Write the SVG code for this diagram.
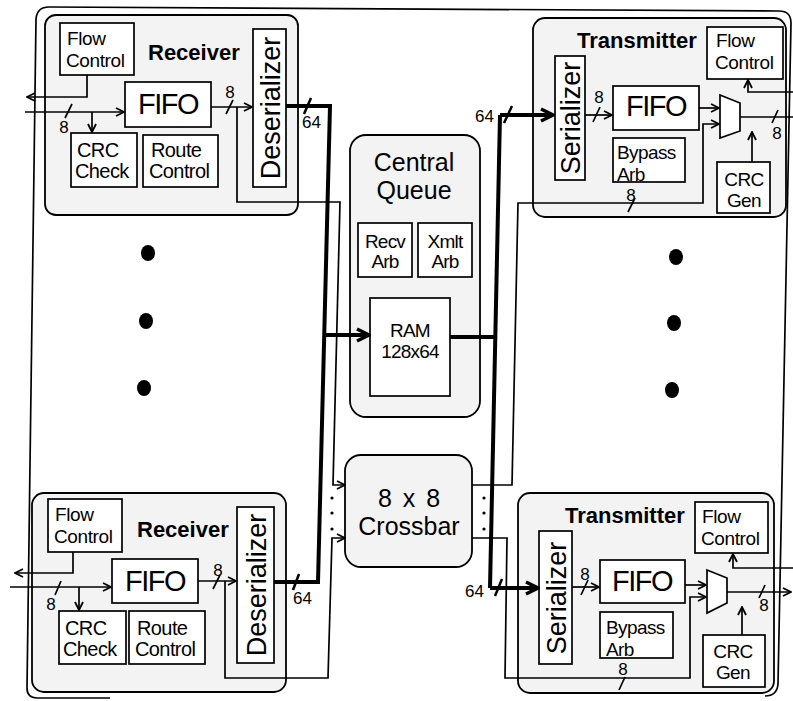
<svg xmlns="http://www.w3.org/2000/svg" width="793" height="701" viewBox="0 0 793 701">
<style>
.frame{fill:#f3f3f3;stroke:#000;stroke-width:1.8}
.box{fill:#fff;stroke:#000;stroke-width:1.7}
.t{font-family:"Liberation Sans",Arial,sans-serif;font-size:20px;letter-spacing:-0.6px;fill:#000}
.fc{font-size:19px;letter-spacing:-0.4px}
.b{font-weight:bold;font-size:22px;letter-spacing:0}
.big{font-size:29px;letter-spacing:-1.5px}
.cq{font-size:25px;letter-spacing:0}
.rot{font-size:27px;letter-spacing:0}
.lbl{font-size:17px;letter-spacing:0}
.sm{font-size:19px;letter-spacing:-0.8px}
.s18{font-size:19px}
.m{text-anchor:middle}
.e{text-anchor:end}
.w{fill:none;stroke:#000;stroke-width:1.7}
.bus{fill:none;stroke:#000;stroke-width:4}
.ar{marker-end:url(#a)}
.arT{marker-end:url(#aT)}
</style>
<defs>
<marker id="a" viewBox="0 0 10 10" refX="9" refY="5" markerWidth="10" markerHeight="10" markerUnits="userSpaceOnUse" orient="auto"><path d="M1,1 L9,5 L1,9" fill="none" stroke="#000" stroke-width="1.8"/></marker>
<marker id="aT" viewBox="0 0 16 16" refX="14" refY="8" markerWidth="16" markerHeight="16" markerUnits="userSpaceOnUse" orient="auto"><path d="M2,2 L14,8 L2,14" fill="none" stroke="#000" stroke-width="3.5"/></marker>
</defs>
<rect width="793" height="701" fill="#fff"/>
<path id="outer" class="w" d="M110,698 L37,698 Q27,698 27,688 L36,19 Q37,7 49,7 L779,11 Q791,11 791,23 L778,684 Q777,696 765,696"/>

<g id="receiver1">
<rect class="frame" x="45" y="15" width="253" height="200" rx="11"/>
<rect class="box" x="60" y="23" width="74" height="52"/>
<text class="t fc" x="67" y="45">Flow</text><text class="t fc" x="66" y="67">Control</text>
<text class="t b" x="148" y="60">Receiver</text>
<rect class="box" x="253" y="29" width="33" height="158"/>
<text class="t rot m" transform="translate(269.5,108) rotate(-90)" y="10">Deserializer</text>
<rect class="box" x="125" y="82" width="86" height="45"/>
<text class="t big m" x="168" y="114">FIFO</text>
<rect class="box" x="71" y="133" width="66" height="54"/>
<text class="t" x="77" y="157">CRC</text><text class="t" x="75" y="178">Check</text>
<rect class="box" x="143" y="135" width="75" height="52"/>
<text class="t" x="151" y="157">Route</text><text class="t" x="149" y="178">Control</text>
</g>

<g id="receiver2">
<rect class="frame" x="32" y="493" width="254" height="199" rx="12"/>
<rect class="box" x="48" y="499" width="74" height="53"/>
<text class="t fc" x="55" y="521">Flow</text><text class="t fc" x="54" y="543">Control</text>
<text class="t b" x="137" y="537">Receiver</text>
<rect class="box" x="237" y="507" width="37" height="156"/>
<text class="t rot m" transform="translate(255.5,585) rotate(-90)" y="10">Deserializer</text>
<rect class="box" x="112" y="559" width="86" height="44"/>
<text class="t big m" x="155" y="591">FIFO</text>
<rect class="box" x="59" y="611" width="67" height="53"/>
<text class="t" x="65" y="635">CRC</text><text class="t" x="63" y="656">Check</text>
<rect class="box" x="129" y="611" width="76" height="53"/>
<text class="t" x="137" y="635">Route</text><text class="t" x="135" y="656">Control</text>
</g>

<g id="central-queue">
<rect class="frame" x="350" y="135" width="130" height="282" rx="16"/>
<text class="t cq m" x="414" y="171">Central</text>
<text class="t cq m" x="414" y="199">Queue</text>
<rect class="box" x="358" y="223" width="54" height="54"/>
<text class="t sm m" x="385" y="248">Recv</text><text class="t sm m" x="385" y="268">Arb</text>
<rect class="box" x="418" y="223" width="54" height="54"/>
<text class="t sm m" x="445" y="248">Xmlt</text><text class="t sm m" x="445" y="268">Arb</text>
<rect class="box" x="370" y="298" width="80" height="98"/>
<text class="t sm m" x="410" y="337">RAM</text><text class="t sm m" x="410" y="358">128x64</text>
</g>

<g id="crossbar">
<rect class="frame" x="345" y="455" width="127" height="112" rx="16"/>
<text class="t cq m" x="410" y="507" style="letter-spacing:2px">8 x 8</text>
<text class="t cq m" x="409" y="535">Crossbar</text>
</g>

<g id="transmitter1">
<rect class="frame" x="533" y="18" width="253" height="199" rx="12"/>
<text class="t b" x="577" y="48">Transmitter</text>
<rect class="box" x="707" y="27" width="76" height="52"/>
<text class="t fc" x="716" y="47">Flow</text><text class="t fc" x="715" y="69">Control</text>
<rect class="box" x="555" y="56" width="30" height="124"/>
<text class="t rot m" transform="translate(570,118) rotate(-90)" y="10">Serializer</text>
<rect class="box" x="613" y="86" width="86" height="44"/>
<text class="t big m" x="656" y="116">FIFO</text>
<rect class="box" x="613" y="138" width="72" height="44"/>
<text class="t s18" x="617" y="159">Bypass</text><text class="t s18" x="617" y="181">Arb</text>
<rect class="box" x="717" y="162" width="53" height="51"/>
<text class="t s18 m" x="744" y="186">CRC</text><text class="t s18 m" x="744" y="207">Gen</text>
<polygon class="box" points="720,95 740,103 740,131 720,138"/>
</g>

<g id="transmitter2">
<rect class="frame" x="518" y="493" width="256" height="200" rx="12"/>
<text class="t b" x="565" y="523">Transmitter</text>
<rect class="box" x="695" y="502" width="73" height="51"/>
<text class="t fc" x="702" y="523">Flow</text><text class="t fc" x="701" y="545">Control</text>
<rect class="box" x="539" y="531" width="33" height="133"/>
<text class="t rot m" transform="translate(555.5,598) rotate(-90)" y="10">Serializer</text>
<rect class="box" x="600" y="560" width="85" height="43"/>
<text class="t big m" x="642" y="591">FIFO</text>
<rect class="box" x="600" y="612" width="73" height="46"/>
<text class="t s18" x="606" y="634">Bypass</text><text class="t s18" x="606" y="656">Arb</text>
<rect class="box" x="703" y="635" width="62" height="52"/>
<text class="t s18 m" x="733" y="658">CRC</text><text class="t s18 m" x="733" y="679">Gen</text>
<polygon class="box" points="707,570 727,578 727,603 707,613"/>
</g>

<g id="ellipsis">
<ellipse cx="148" cy="253" rx="7" ry="8"/>
<ellipse cx="146" cy="321" rx="7" ry="8"/>
<ellipse cx="144" cy="388" rx="7" ry="8"/>
<ellipse cx="676" cy="257" rx="7" ry="8"/>
<ellipse cx="674" cy="323" rx="7" ry="8"/>
<ellipse cx="672" cy="390" rx="7" ry="8"/>
<circle cx="332" cy="498" r="1.6"/><circle cx="332" cy="513" r="1.6"/><circle cx="332" cy="529" r="1.6"/>
<circle cx="484" cy="498" r="1.6"/><circle cx="484" cy="513" r="1.6"/><circle cx="484" cy="529" r="1.6"/>
</g>

<g id="connectors">
<path class="w ar" d="M25,112 L124,112"/>
<path class="w" d="M65,118 L72,104"/>
<text class="t lbl m" x="64" y="133">8</text>
<path class="w ar" d="M92,112 L92,132"/>
<path class="w ar" d="M87,75 L87,97 L27,97"/>
<path class="w ar" d="M211,107 L252,107"/>
<path class="w" d="M226,114 L233,100"/>
<text class="t lbl m" x="230" y="98">8</text>
<path class="w ar" d="M237,107 L237,202 L340,202 L333,485 L345,485"/>
<path class="w ar" d="M10,587 L111,587"/>
<path class="w" d="M55,595 L61,581"/>
<text class="t lbl m" x="51" y="610">8</text>
<path class="w ar" d="M79,587 L79,610"/>
<path class="w ar" d="M73,552 L73,573 L15,573"/>
<path class="w ar" d="M198,581 L236,581"/>
<path class="w" d="M213,589 L220,575"/>
<text class="t lbl m" x="218" y="576">8</text>
<path class="w ar" d="M225,581 L225,678 L328,678 L332,538 L345,538"/>
<path class="bus" d="M286,106 L330,106 L318,582 L274,582"/>
<path class="bus arT" d="M325,335 L369,335"/>
<path class="w" style="stroke-width:2.5" d="M304,114 L311,98"/>
<text class="t lbl" x="302" y="128">64</text>
<path class="w" style="stroke-width:2.5" d="M293,590 L299,574"/>
<text class="t lbl" x="293" y="604">64</text>
<path class="bus" d="M450,337 L496,337"/>
<path class="bus" d="M500,115 L490,588"/>
<path class="bus arT" d="M500,115 L553,115"/>
<path class="bus arT" d="M490,588 L538,588"/>
<path class="w" style="stroke-width:2.5" d="M504,123 L512,106"/>
<text class="t lbl e" x="494" y="122">64</text>
<path class="w" style="stroke-width:2.5" d="M495,596 L502,579"/>
<text class="t lbl e" x="484" y="597">64</text>
<path class="w ar" d="M472,485 L512,485 L518,203 L703,203 L703,124 L719,124"/>
<path class="w ar" d="M472,538 L507,538 L505,678 L690,678 L690,597 L706,597"/>
<path class="w ar" d="M585,115 L612,115"/>
<path class="w" d="M593,122 L600,107"/>
<text class="t lbl m" x="599" y="103">8</text>
<path class="w ar" d="M699,108 L719,108"/>
<path class="w" d="M740,117 L793,117"/>
<path class="w" d="M772,123 L778,110"/>
<text class="t lbl m" x="777" y="139">8</text>
<path class="w ar" d="M793,92 L748,92 L748,80"/>
<path class="w ar" d="M752,162 L752,132"/>
<path class="w" d="M628,212 L635,198"/>
<text class="t lbl m" x="631" y="201">8</text>
<path class="w ar" d="M572,587 L599,587"/>
<path class="w" d="M581,595 L588,580"/>
<text class="t lbl m" x="585" y="580">8</text>
<path class="w ar" d="M685,585 L706,585"/>
<path class="w ar" d="M727,592 L791,592"/>
<path class="w" d="M759,598 L765,585"/>
<text class="t lbl m" x="764" y="611">8</text>
<path class="w ar" d="M793,568 L733,568 L733,554"/>
<path class="w ar" d="M742,635 L742,607"/>
<path class="w" d="M619,690 L625,677"/>
<text class="t lbl m" x="623" y="675">8</text>
</g>
</svg>
